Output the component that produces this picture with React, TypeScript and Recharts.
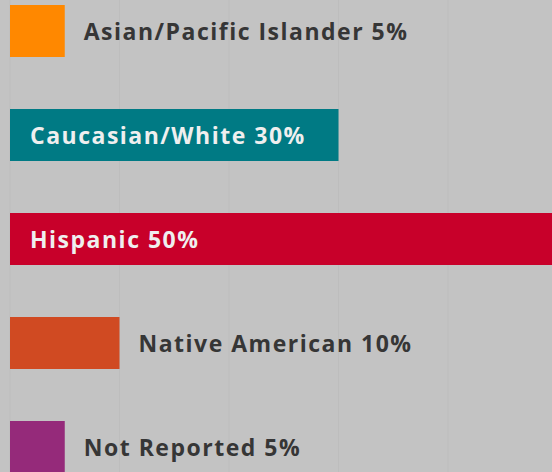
import { BarChart, Bar, XAxis, YAxis, CartesianGrid, Cell, LabelList } from 'recharts';

const categories = ['Asian/Pacific Islander', 'Caucasian/White', 'Hispanic', 'Native American', 'Not Reported'];
const shares = [5, 30, 50, 10, 5];
const xTicks = [0, 10, 20, 30, 40, 50];

const BAR_COLORS = ['#FF8800', '#007A84', '#C8002A', '#D04A22', '#952A7A'];

const data = categories.map((name, i) => ({
  name,
  share: shares[i],
  label: `${name} ${shares[i]}%`,
}));

const FONT = '"Open Sans", sans-serif';

const BarLabel = (props: any) => {
  const { x, y, width, height, value } = props;
  const inside = width > 150;
  const cy = y + height / 2;
  return (
    <text
      x={inside ? x + 20 : x + width + 19}
      y={cy + 8.5}
      fill={inside ? '#EFEFEF' : '#363636'}
      fontFamily={FONT}
      fontWeight={700}
      fontSize={23}
      letterSpacing={1.5}
    >
      {value}
    </text>
  );
};

export default function App() {
  return (
    <div
      style={{
        position: 'fixed',
        left: 0,
        top: 0,
        width: 552,
        height: 472,
        overflow: 'hidden',
        background: '#C3C3C3',
      }}
    >
      <div style={{ position: 'absolute', left: 0, top: -21 }}>
        <BarChart
          width={600}
          height={520}
          data={data}
          layout="vertical"
          margin={{ top: 0, right: 42.5, bottom: 0, left: 10 }}
        >
          <CartesianGrid horizontal={false} stroke="#BDBDBD" />
          <XAxis type="number" domain={[0, 50]} ticks={xTicks} hide />
          <YAxis type="category" dataKey="name" hide />
          <Bar dataKey="share" barSize={52} isAnimationActive={false}>
            {data.map((d, i) => (
              <Cell key={d.name} fill={BAR_COLORS[i]} />
            ))}
            <LabelList dataKey="label" content={<BarLabel />} />
          </Bar>
        </BarChart>
      </div>
    </div>
  );
}
